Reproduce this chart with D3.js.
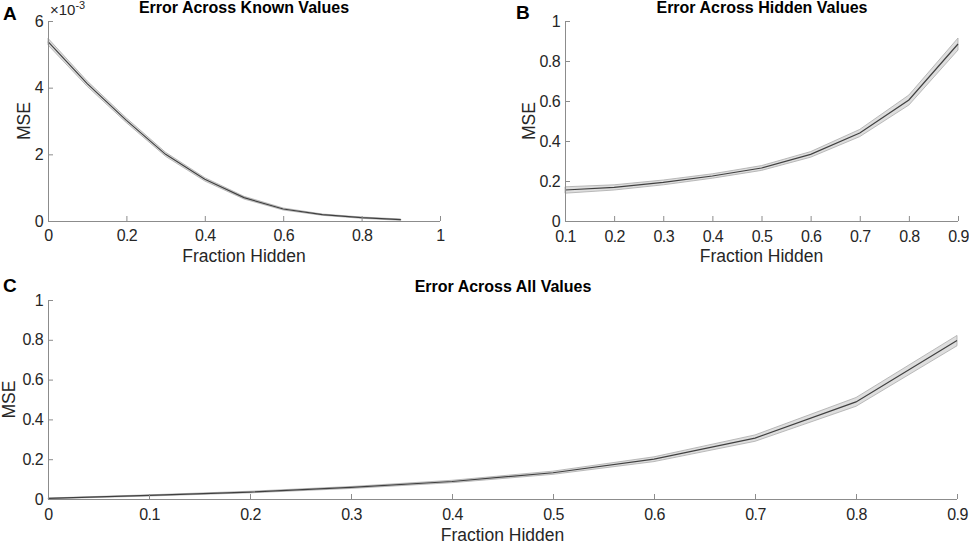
<!DOCTYPE html>
<html>
<head>
<meta charset="utf-8">
<script src="https://cdn.jsdelivr.net/npm/d3@7"></script>
<style>
  body { margin: 0; background: #fff; }
  svg { font-family: "Liberation Sans", Arial, sans-serif; }
  .tick text { fill: #262626; font-size: 16px; letter-spacing: -0.6px; }
  .domain, .tick line { stroke: #8c8c8c; }
</style>
</head>
<body>
<svg width="969" height="545"></svg>
<script>
// fraction hidden
var fracA = [0, 0.1, 0.2, 0.3, 0.4, 0.5, 0.6, 0.7, 0.8, 0.9];
var fracB = [0.1, 0.2, 0.3, 0.4, 0.5, 0.6, 0.7, 0.8, 0.9];
var fracC = [0, 0.1, 0.2, 0.3, 0.4, 0.5, 0.6, 0.7, 0.8, 0.9];

// panel A, known values (x1e-3)
var mseKnown = [5.38, 4.12, 3.02, 2.0, 1.25, 0.7, 0.36, 0.19, 0.1, 0.04];
var errKnown = [0.1, 0.08, 0.07, 0.06, 0.05, 0.04, 0.03, 0.02, 0.02, 0.02];

// panel B, hidden values
var mseHidden = [0.155, 0.168, 0.193, 0.225, 0.265, 0.333, 0.44, 0.605, 0.885];
var errHidden = [0.016, 0.013, 0.012, 0.011, 0.012, 0.014, 0.018, 0.025, 0.03];

// panel C, all values
var mseAll = [0.003, 0.018, 0.035, 0.058, 0.088, 0.132, 0.2, 0.306, 0.488, 0.796];
var errAll = [0.002, 0.003, 0.004, 0.005, 0.006, 0.008, 0.012, 0.016, 0.022, 0.026];

var svg = d3.select("svg");

function panel(o) {
    var g = svg.append("g");
    var scX = d3.scaleLinear().domain(o.xdom).range([o.x0, o.x1]);
    var scY = d3.scaleLinear().domain(o.ydom).range([o.y0, o.y1]);

    var pts = o.xs.map((x, i) => ({x: x, y: o.ys[i], e: o.es[i]}));

    g.append("path")
        .attr("fill", "#dedede").attr("stroke", "#ababab").attr("stroke-width", 0.8)
        .attr("d", d3.area().x(d => scX(d.x)).y0(d => scY(d.y - d.e)).y1(d => scY(d.y + d.e))(pts));
    g.append("path")
        .attr("fill", "none").attr("stroke", "#404040").attr("stroke-width", 1.2)
        .attr("d", d3.line().x(d => scX(d.x)).y(d => scY(d.y))(pts));

    g.append("g").attr("transform", "translate(0," + o.y0 + ")")
        .call(d3.axisBottom(scX).tickValues(o.xticks).tickSizeInner(-5).tickSizeOuter(0)
            .tickPadding(o.xpad).tickFormat(d3.format("")))
        .call(a => a.select(".domain").attr("d", "M" + o.x0 + ",0.5H" + o.x1));
    g.append("g").attr("transform", "translate(" + o.x0 + ",0)")
        .call(d3.axisLeft(scY).tickValues(o.yticks).tickSizeInner(-5).tickSizeOuter(0)
            .tickPadding(5).tickFormat(d3.format("")))
        .call(a => a.select(".domain").attr("d", "M0.5," + o.y0 + "V" + o.y1));
    g.selectAll(".tick text").attr("font-family", null).attr("font-size", null);
    g.selectAll(".domain").attr("stroke", null);

    g.append("text").attr("x", o.tx).attr("y", o.y1 - 8)
        .attr("text-anchor", "middle").attr("font-weight", "bold").attr("font-size", 16)
        .attr("fill", "#000").text(o.title);
    g.append("text").attr("x", (o.x0 + o.x1) / 2).attr("y", o.y0 + o.xly)
        .attr("text-anchor", "middle").attr("font-size", 17.5).attr("fill", "#262626")
        .text("Fraction Hidden");
    g.append("text").attr("transform", "translate(" + o.ly + "," + (o.y0 + o.y1) / 2 + ") rotate(-90)")
        .attr("text-anchor", "middle").attr("font-size", 17.5).attr("fill", "#262626")
        .text("MSE");
    g.append("text").attr("x", o.lx).attr("y", o.lety)
        .attr("font-weight", "bold").attr("font-size", 19).attr("fill", "#000")
        .text(o.letter);
    return g;
}

var gA = panel({xs: fracA, ys: mseKnown, es: errKnown, xdom: [0, 1], ydom: [0, 6],
    x0: 48, x1: 440, y0: 221, y1: 21, xpad: 9, xly: 41,
    xticks: [0, 0.2, 0.4, 0.6, 0.8, 1], yticks: [0, 2, 4, 6],
    title: "Error Across Known Values", tx: 244, ly: 30, lx: 3, lety: 20, letter: "A"});
gA.append("text").attr("x", 50).attr("y", 15).attr("font-size", 15).attr("fill", "#262626")
    .text("\u00d710").append("tspan").attr("dy", -6).attr("font-size", 11).text("-3");

panel({xs: fracB, ys: mseHidden, es: errHidden, xdom: [0.1, 0.9], ydom: [0, 1],
    x0: 565, x1: 958, y0: 221, y1: 21, xpad: 10, xly: 41,
    xticks: fracB, yticks: [0, 0.2, 0.4, 0.6, 0.8, 1],
    title: "Error Across Hidden Values", tx: 762, ly: 535, lx: 516, lety: 19, letter: "B"});

panel({xs: fracC, ys: mseAll, es: errAll, xdom: [0, 0.9], ydom: [0, 1],
    x0: 48, x1: 957, y0: 499, y1: 300, xpad: 10, xly: 42,
    xticks: fracC, yticks: [0, 0.2, 0.4, 0.6, 0.8, 1],
    title: "Error Across All Values", tx: 503, ly: 15, lx: 3, lety: 292, letter: "C"});
</script>
</body>
</html>
